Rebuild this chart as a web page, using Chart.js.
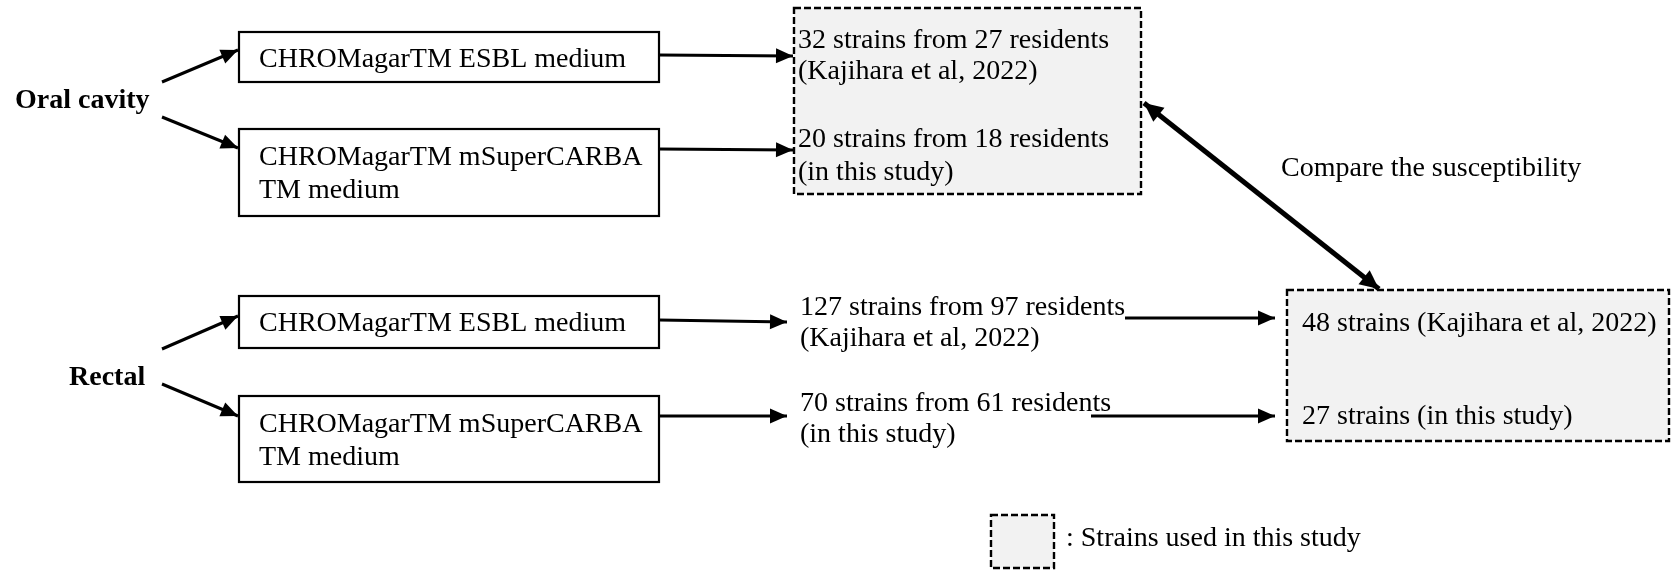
<!DOCTYPE html>
<html>
<head>
<meta charset="utf-8">
<script src="https://cdn.jsdelivr.net/npm/chart.js@4/dist/chart.umd.min.js"></script>
<style>
  html, body { margin:0; padding:0; background:#fff; }
  #wrap { width:1672px; height:571px; }
</style>
</head>
<body>
<div id="wrap"><canvas id="flow" width="1672" height="571"></canvas></div>
<script>
// ---------------- Datos del diagrama (coordenadas en unidades del eje) ----------------
const sourceLabels = ['Oral cavity', 'Rectal'];
const sourceX = [15, 69];
const sourceY = [101, 378];

const mediumBoxes = [[239,32,659,82], [239,129,659,216], [239,296,659,348], [239,396,659,482]];
const mediumLines = [
  ['CHROMagarTM ESBL medium'],
  ['CHROMagarTM mSuperCARBA', 'TM medium'],
  ['CHROMagarTM ESBL medium'],
  ['CHROMagarTM mSuperCARBA', 'TM medium']
];
const mediumLineY = [[60], [158, 191], [324], [425, 458]];

const usedBoxes = [[794,8,1141,194], [1287,290,1669,441], [991,515,1054,568]];

const resultLines = [
  '32 strains from 27 residents', '(Kajihara et al, 2022)',
  '20 strains from 18 residents', '(in this study)',
  '127 strains from 97 residents', '(Kajihara et al, 2022)',
  '70 strains from 61 residents', '(in this study)',
  '48 strains (Kajihara et al, 2022)', '27 strains (in this study)',
  'Compare the susceptibility', ': Strains used in this study'
];
const resultX = [798, 798, 798, 798, 800, 800, 800, 800, 1302, 1302, 1281, 1066];
const resultY = [41, 72, 140, 173, 308, 339, 404, 435, 324, 417, 169, 539];

// flechas: [x1, y1, x2, y2]
const arrows = [
  [162,82,238,50], [162,117,238,148], [162,349,238,316], [162,384,238,416],
  [659,55,793,56], [659,149,793,150], [659,320,787,322], [659,416,787,416],
  [1125,318,1275,318], [1091,416,1275,416]
];
const doubleArrow = [1144,103,1379,289];

const FONT = '"Liberation Serif", "Times New Roman", serif';

// ---------------- Datasets ----------------
const datasets = arrows.map(a => ({
  data: [{x:a[0], y:a[1]}, {x:a[2], y:a[3]}],
  showLine: true, borderColor: '#000', borderWidth: 3, pointRadius: 0, arrow: 'end'
}));
datasets.push({
  data: [{x:doubleArrow[0], y:doubleArrow[1]}, {x:doubleArrow[2], y:doubleArrow[3]}],
  showLine: true, borderColor: '#000', borderWidth: 5, pointRadius: 0, arrow: 'both'
});

function head(ctx, fx, fy, tx, ty, len, half) {
  const ang = Math.atan2(ty - fy, tx - fx);
  ctx.save();
  ctx.translate(tx, ty);
  ctx.rotate(ang);
  ctx.beginPath();
  ctx.moveTo(0, 0);
  ctx.lineTo(-len, -half);
  ctx.lineTo(-len, half);
  ctx.closePath();
  ctx.fillStyle = '#000';
  ctx.fill();
  ctx.restore();
}

const diagramPlugin = {
  id: 'diagram',
  beforeDatasetsDraw(chart) {
    const {ctx, scales:{x, y}} = chart;
    ctx.save();
    // cajas punteadas (cepas usadas)
    usedBoxes.forEach(b => {
      const x1 = x.getPixelForValue(b[0]), y1 = y.getPixelForValue(b[1]);
      const x2 = x.getPixelForValue(b[2]), y2 = y.getPixelForValue(b[3]);
      ctx.fillStyle = '#f2f2f2';
      ctx.fillRect(x1, y1, x2 - x1, y2 - y1);
      ctx.setLineDash([7, 3]);
      ctx.lineWidth = 2.4;
      ctx.strokeStyle = '#000';
      ctx.strokeRect(x1, y1, x2 - x1, y2 - y1);
    });
    ctx.setLineDash([]);
    // cajas de medios
    mediumBoxes.forEach(b => {
      const x1 = x.getPixelForValue(b[0]), y1 = y.getPixelForValue(b[1]);
      const x2 = x.getPixelForValue(b[2]), y2 = y.getPixelForValue(b[3]);
      ctx.lineWidth = 2.2;
      ctx.strokeStyle = '#000';
      ctx.strokeRect(x1, y1, x2 - x1, y2 - y1);
    });
    ctx.restore();
  },
  afterDatasetsDraw(chart) {
    const {ctx, scales:{x, y}} = chart;
    // puntas de flecha
    chart.data.datasets.forEach((ds, i) => {
      const pts = chart.getDatasetMeta(i).data;
      if (pts.length < 2) return;
      const p0 = pts[0], p1 = pts[1];
      const big = ds.arrow === 'both';
      const len = big ? 19 : 17, half = big ? 9 : 7.5;
      head(ctx, p0.x, p0.y, p1.x, p1.y, len, half);
      if (big) head(ctx, p1.x, p1.y, p0.x, p0.y, len, half);
    });
    // textos
    ctx.save();
    ctx.fillStyle = '#000';
    ctx.textBaseline = 'middle';
    ctx.textAlign = 'left';
    ctx.font = 'bold 28px ' + FONT;
    sourceLabels.forEach((t, i) => ctx.fillText(t, x.getPixelForValue(sourceX[i]), y.getPixelForValue(sourceY[i])));
    ctx.font = '28px ' + FONT;
    mediumLines.forEach((lines, i) => {
      lines.forEach((t, j) => ctx.fillText(t, x.getPixelForValue(mediumBoxes[i][0] + 20), y.getPixelForValue(mediumLineY[i][j])));
    });
    resultLines.forEach((t, i) => ctx.fillText(t, x.getPixelForValue(resultX[i]), y.getPixelForValue(resultY[i])));
    ctx.restore();
  }
};

new Chart(document.getElementById('flow').getContext('2d'), {
  type: 'scatter',
  data: { datasets },
  options: {
    responsive: false,
    animation: false,
    layout: { padding: 0 },
    plugins: { legend: { display: false }, tooltip: { enabled: false } },
    scales: {
      x: { type: 'linear', min: 0, max: 1672, display: false },
      y: { type: 'linear', min: 0, max: 571, reverse: true, display: false }
    }
  },
  plugins: [diagramPlugin]
});
</script>
</body>
</html>
